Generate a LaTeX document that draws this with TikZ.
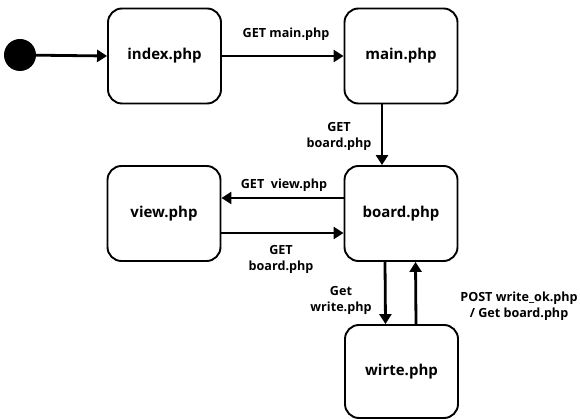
\documentclass[tikz,border=0pt]{standalone}
\usepackage{fontspec}
\setmainfont{Open Sans}
\usetikzlibrary{arrows.meta}
\begin{document}
\begin{tikzpicture}[x=1pt,y=-1pt,
  state/.style={draw, line width=1.9pt, rounded corners=14pt, minimum width=113pt, minimum height=95pt, inner sep=0pt, font=\bfseries\fontsize{15}{17}\selectfont},
  lbl/.style={font=\bfseries\fontsize{12.6}{16}\selectfont, align=center, inner sep=0pt},
  conn/.style={line width=2.8pt, -{Triangle[length=10pt,width=12pt]}}]
\useasboundingbox (0,0) rectangle (580,419);
\node[circle, fill=black, minimum size=32pt, inner sep=0pt] (start) at (20,55) {};
\node[state] (index) at (164.5,56) {index.php};
\node[state] (main) at (401,56) {main.php};
\node[state] (board) at (401,213.5) {board.php};
\node[state] (view) at (164,213.5) {view.php};
\node[state, minimum height=93pt] (write) at (401.5,371.5) {wirte.php};
\draw[conn] (start) -- (index.west);
\draw[conn] (index.east) -- (main.west);
\draw[conn] ([xshift=-19pt]main.south) -- ([xshift=-19pt]board.north);
\draw[conn] ([yshift=15.5pt]board.west) -- ([yshift=15.5pt]view.east);
\draw[conn] ([yshift=-19.5pt]view.east) -- ([yshift=-19.5pt]board.west);
\draw[conn] ([xshift=-16pt]board.south) -- ([xshift=-16pt]write.north);
\draw[conn] ([xshift=14.5pt]write.north) -- ([xshift=14.5pt]board.south);
\node[lbl] (l1) at (286,34) {GET main.php};
\node[lbl] (l2) at (339,136) {GET\\board.php};
\node[lbl] (l3) at (284,185) {GET~~view.php};
\node[lbl] (l4) at (281,259) {GET\\board.php};
\node[lbl] (l5) at (341,300) {Get\\write.php};
\node[lbl] (l6) at (519,306) {POST write\_ok.php\\/ Get board.php};
\end{tikzpicture}
\end{document}
